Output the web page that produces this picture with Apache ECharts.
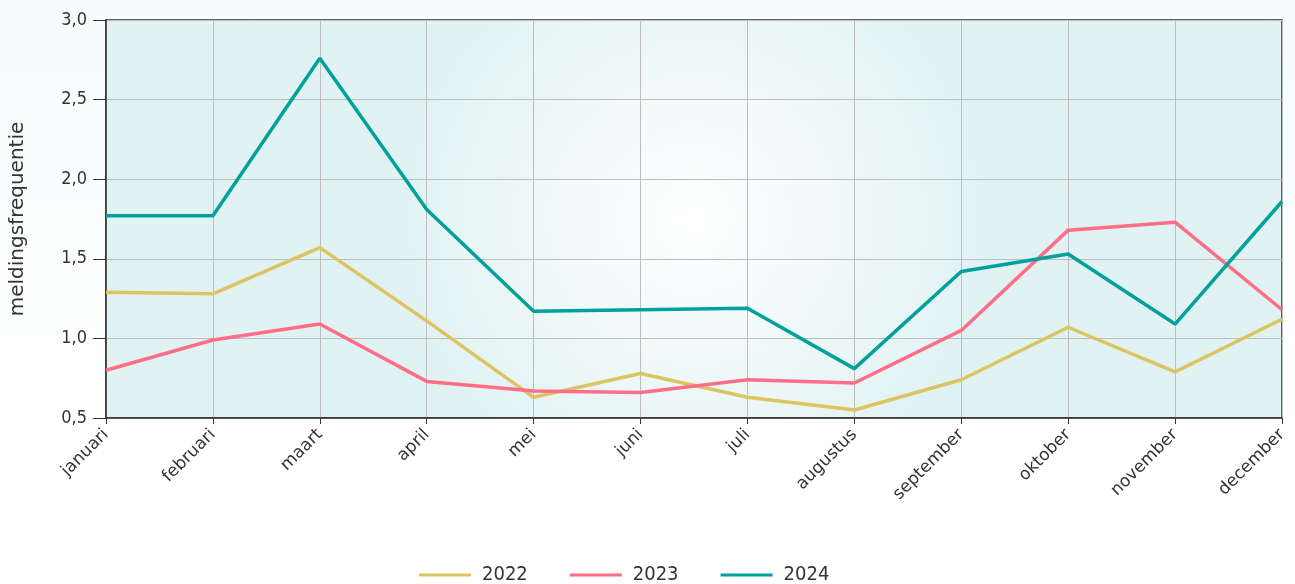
<!DOCTYPE html>
<html>
<head>
<meta charset="utf-8">
<script src="https://cdn.jsdelivr.net/npm/echarts@6/dist/echarts.min.js"></script>
<style>
  html, body { margin: 0; padding: 0; }
  body { background: linear-gradient(#f6fbfc, #ffffff 70%); }
</style>
</head>
<body>
<div id="chart" style="width: 1295px; height: 584px"></div>
<script>
const months = ['januari', 'februari', 'maart', 'april', 'mei', 'juni', 'juli', 'augustus', 'september', 'oktober', 'november', 'december'];
const data2022 = [1.29, 1.28, 1.57, 1.11, 0.63, 0.78, 0.63, 0.55, 0.74, 1.07, 0.79, 1.12];
const data2023 = [0.80, 0.99, 1.09, 0.73, 0.67, 0.66, 0.74, 0.72, 1.05, 1.68, 1.73, 1.18];
const data2024 = [1.77, 1.77, 2.76, 1.81, 1.17, 1.18, 1.19, 0.81, 1.42, 1.53, 1.09, 1.86];

const chart = echarts.init(document.getElementById('chart'));

const line = (name, data, color) => ({
    name: name,
    type: 'line',
    data: data,
    symbol: 'none',
    lineStyle: { color: color, width: 3.5 },
    itemStyle: { color: color }
});

chart.setOption({
    textStyle: { fontFamily: '"DejaVu Sans", sans-serif' },
    grid: {
        left: 106, right: 13, top: 20, bottom: 166,
        show: true,
        borderColor: '#333',
        borderWidth: 1.5,
        backgroundColor: {
            type: 'radial', x: 0.5, y: 0.5, r: 0.75,
            colorStops: [
                { offset: 0, color: '#ffffff' },
                { offset: 1, color: '#e0f2f2' }
            ]
        }
    },
    legend: {
        bottom: -6,
        left: 414,
        itemWidth: 52,
        itemHeight: 3,
        itemGap: 42,
        icon: 'rect',
        textStyle: { fontSize: 20, color: '#333', padding: [0, 0, 0, 6], fontFamily: '"DejaVu Sans Condensed", sans-serif' },
        data: ['2022', '2023', '2024']
    },
    xAxis: {
        type: 'category',
        boundaryGap: false,
        data: months,
        axisLine: { lineStyle: { color: '#333', width: 1.5 } },
        axisTick: { show: true, alignWithLabel: true, length: 6, lineStyle: { color: '#333' } },
        axisLabel: {
            rotate: 45, fontSize: 17, color: '#333', margin: 14, interval: 0,
            fontFamily: '"DejaVu Sans", sans-serif'
        },
        splitLine: { show: true, lineStyle: { color: '#bdbdbd', width: 1 } }
    },
    yAxis: {
        type: 'value',
        min: 0.5, max: 3.0, interval: 0.5,
        name: 'meldingsfrequentie',
        nameLocation: 'middle',
        nameGap: 78,
        nameTextStyle: { fontSize: 20, color: '#333', fontFamily: '"DejaVu Sans", sans-serif' },
        axisLine: { show: true, lineStyle: { color: '#333', width: 1.5 } },
        axisTick: { show: true, length: 13, lineStyle: { color: '#333' } },
        axisLabel: {
            fontSize: 18, color: '#333', margin: 19,
            fontFamily: '"DejaVu Sans Condensed", sans-serif',
            formatter: v => v.toFixed(1).replace('.', ',')
        },
        splitLine: { show: true, lineStyle: { color: '#bdbdbd', width: 1 } }
    },
    series: [
        line('2022', data2022, '#dcc462'),
        line('2023', data2023, '#fe6f87'),
        line('2024', data2024, '#00a19d')
    ]
});
</script>
</body>
</html>
